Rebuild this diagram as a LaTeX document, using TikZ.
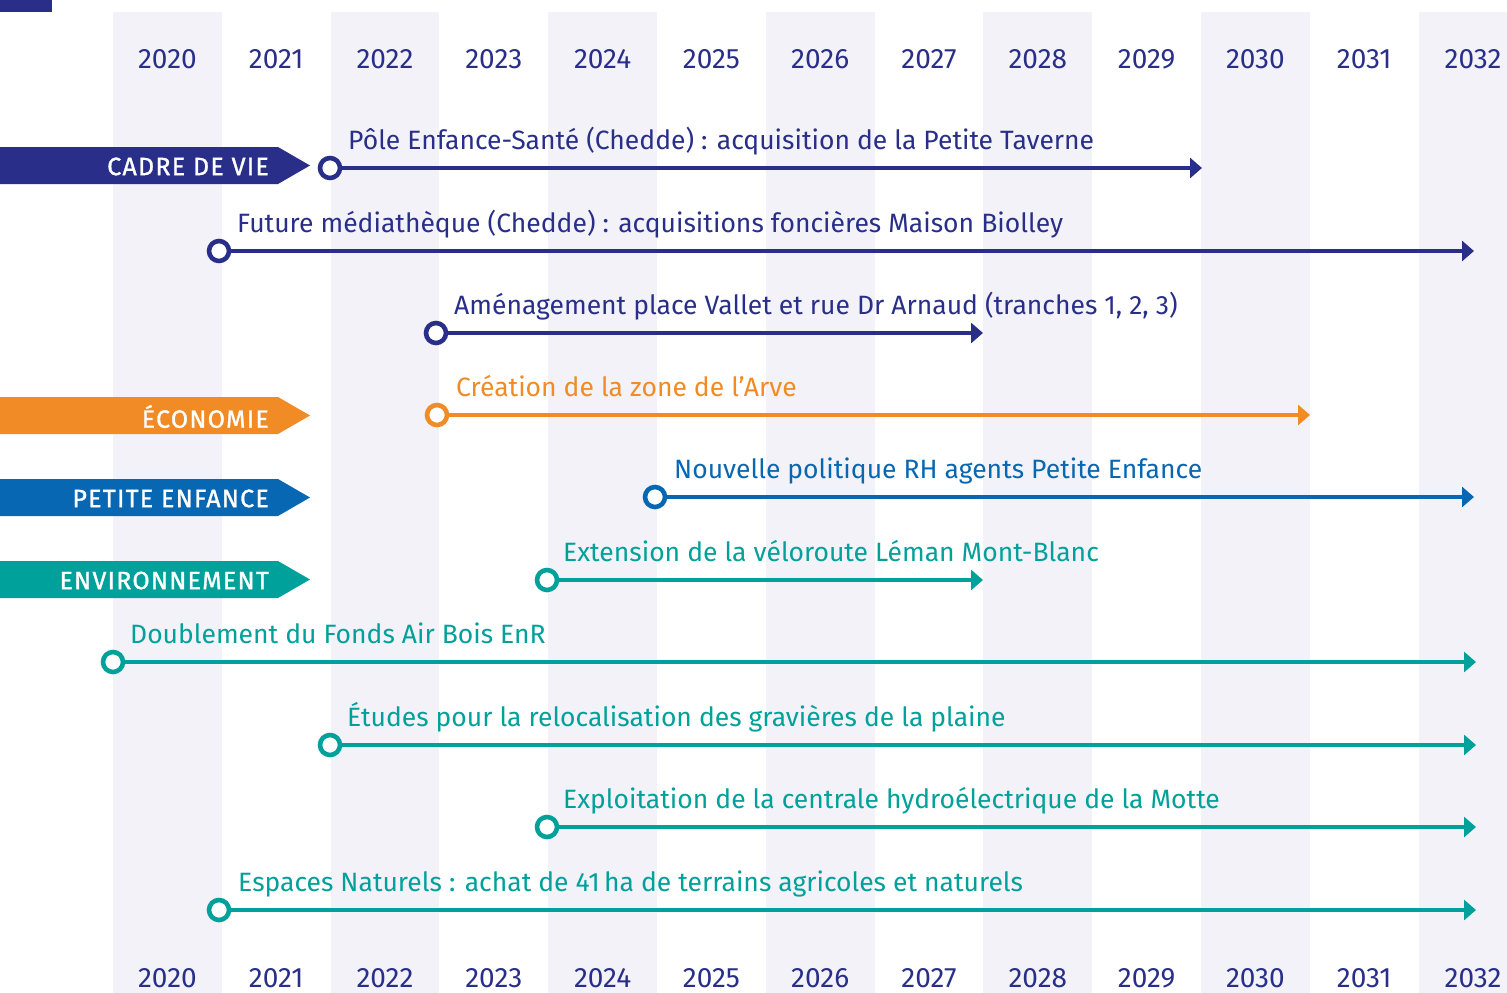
\documentclass[tikz,border=0pt]{standalone}
\usepackage{fontspec}
\setmainfont{Fira Sans}
\usetikzlibrary{arrows.meta}
\definecolor{navy}{RGB}{41,47,137}
\definecolor{orng}{RGB}{241,139,38}
\definecolor{blu}{RGB}{8,103,178}
\definecolor{teal}{RGB}{0,161,155}
\definecolor{stripe}{RGB}{242,242,248}
\tikzset{
  yearlbl/.style={anchor=base, text=navy, font=\fontsize{28}{30}\selectfont, inner sep=0pt},
  tasklbl/.style={anchor=base west, font=\fontsize{26.5}{30}\selectfont, inner sep=0pt},
  startdot/.style={circle, draw=#1, line width=4.6pt, fill=white, minimum size=20pt, inner sep=0pt},
  taskline/.style={draw=#1, line width=4.8pt, -{Triangle[length=12pt,width=20pt]}},
  bandtxt/.style={anchor=east, text=white, font=\fontsize{25}{26}\selectfont\addfontfeature{LetterSpace=5,FakeBold=1.2}, inner sep=0pt}
}
\begin{document}
\begin{tikzpicture}[x=1pt,y=-1pt]
\useasboundingbox (0,0) rectangle (1507,993);
\fill[white] (0,0) rectangle (1507,993);
% stripes
\foreach \i in {0,2,4,6,8,10,12}{
  \fill[stripe] ({113+108.8*\i},12) rectangle ({113+108.8*(\i+1)},993);
}
\fill[navy] (0,0) rectangle (52,12);
% years
\foreach \y [count=\k from 0] in {2020,2021,2022,2023,2024,2025,2026,2027,2028,2029,2030,2031,2032}{
  \node[yearlbl] (top\y) at ({167.4+108.8*\k},68) {\y};
  \node[yearlbl] (bot\y) at ({167.4+108.8*\k},987) {\y};
}
% bands
\fill[navy] (0,147) -- (278,147) -- (310,165.5) -- (278,184) -- (0,184) -- cycle;
\node[bandtxt] (bcadre) at (269,166.5) {CADRE DE VIE};
\fill[orng] (0,397) -- (278,397) -- (310,415.5) -- (278,434) -- (0,434) -- cycle;
\node[bandtxt] (beco) at (269,416.5) {ÉCONOMIE};
\fill[blu] (0,479) -- (278,479) -- (310,497.5) -- (278,516) -- (0,516) -- cycle;
\node[bandtxt] (bpe) at (269,498.5) {PETITE ENFANCE};
\fill[teal] (0,561) -- (278,561) -- (310,579.5) -- (278,598) -- (0,598) -- cycle;
\node[bandtxt] (benv) at (269,580.5) {ENVIRONNEMENT};
% tasks
\foreach \n/\sx/\ex/\ly/\lx/\col/\txt in {
 1/330/1202/168/348/navy/{Pôle Enfance-Santé (Chedde) : acquisition de la Petite Taverne},
 2/219/1474/251/237/navy/{Future médiathèque (Chedde) : acquisitions foncières Maison Biolley},
 3/436/983/333/454/navy/{Aménagement place Vallet et rue Dr Arnaud (tranches 1, 2, 3)},
 4/437/1310/415/456/orng/{Création de la zone de l’Arve},
 5/655/1474/497/674/blu/{Nouvelle politique RH agents Petite Enfance},
 6/547/983/580/563/teal/{Extension de la véloroute Léman Mont-Blanc},
 7/113/1476/662/130/teal/{Doublement du Fonds Air Bois EnR},
 8/330/1476/745/347/teal/{Études pour la relocalisation des gravières de la plaine},
 9/547/1476/827/563/teal/{Exploitation de la centrale hydroélectrique de la Motte},
 10/219/1476/910/238/teal/{Espaces Naturels : achat de 41\,ha de terrains agricoles et naturels}}{
  \coordinate (e\n) at (\ex,\ly);
  \draw[taskline=\col] (\sx,\ly) -- (e\n);
  \node[startdot=\col] (s\n) at (\sx,\ly) {};
  \node[tasklbl, text=\col] (l\n) at (\lx,\ly-19) {\txt};
}
\end{tikzpicture}
\end{document}
